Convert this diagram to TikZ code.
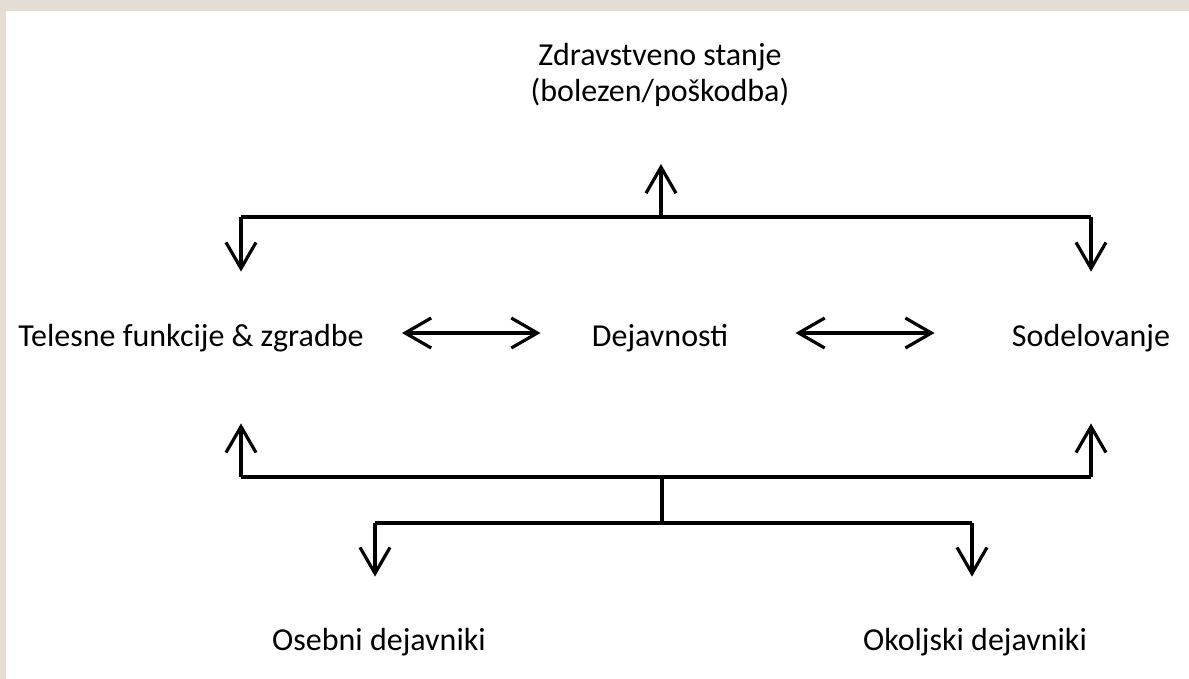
\documentclass[tikz,border=0pt]{standalone}
\usepackage{fontspec}
\setmainfont{Carlito}
\usetikzlibrary{arrows.meta}
\definecolor{frame}{HTML}{E3DDD3}

\begin{document}
\begin{tikzpicture}[x=0.5pt, y=-0.5pt,
  txt/.style={inner sep=0pt, font=\fontsize{16}{18}\selectfont},
  lbl/.style={txt, text height=13pt, text depth=0pt},
  bus/.style={line width=1.6pt},
  arr/.style={bus, -{Straight Barb[length=13pt,width=15pt]}},
  dbl/.style={bus, {Straight Barb[length=13pt,width=15pt]}-{Straight Barb[length=13pt,width=15pt]}}]
  \useasboundingbox (0,0) rectangle (1189,679);
  \fill[frame] (0,0) rectangle (1189,679);
  \fill[white] (6,11) rectangle (1189,679);

  \node[txt, align=center, text depth=0pt, anchor=south] (zdrav) at (660,102) {Zdravstveno stanje\\(bolezen/poškodba)};
  \node[lbl] (telesne) at (191,333) {Telesne funkcije \& zgradbe};
  \node[lbl] (dejav) at (660,333) {Dejavnosti};
  \node[lbl] (sodel) at (1091,333) {Sodelovanje};
  \node[lbl] (osebni) at (379,637) {Osebni dejavniki};
  \node[lbl] (okolj) at (975,637) {Okoljski dejavniki};

  \coordinate (zgL) at (241,217);
  \coordinate (zgS) at (661,217);
  \coordinate (zgD) at (1091,217);
  \coordinate (spL) at (241,477);
  \coordinate (spS) at (662,477);
  \coordinate (spD) at (1091,477);
  \coordinate (dnS) at (662,523);
  \coordinate (dnL) at (375,523);
  \coordinate (dnD) at (972,523);

  \draw[bus] (zgL) -- (zgD);
  \draw[arr, shorten >=31pt] (zgS) -- (zgS |- zdrav.south);
  \draw[arr, shorten >=24pt] (zgL) -- (zgL |- telesne.north);
  \draw[arr, shorten >=24pt] (zgD) -- (zgD |- sodel.north);

  \draw[dbl, shorten <=19pt, shorten >=25.5pt] (telesne) -- (dejav);
  \draw[dbl, shorten <=33.5pt, shorten >=38.5pt] (dejav) -- (sodel);

  \draw[bus] (spL) -- (spD);
  \draw[arr, shorten >=38.5pt] (spL) -- (spL |- telesne.south);
  \draw[arr, shorten >=38.5pt] (spD) -- (spD |- sodel.south);
  \draw[bus] (spS) -- (dnS);
  \draw[bus] (dnL) -- (dnD);
  \draw[arr, shorten >=23.5pt] (dnL) -- (dnL |- osebni.north);
  \draw[arr, shorten >=23.5pt] (dnD) -- (dnD |- okolj.north);
\end{tikzpicture}
\end{document}
